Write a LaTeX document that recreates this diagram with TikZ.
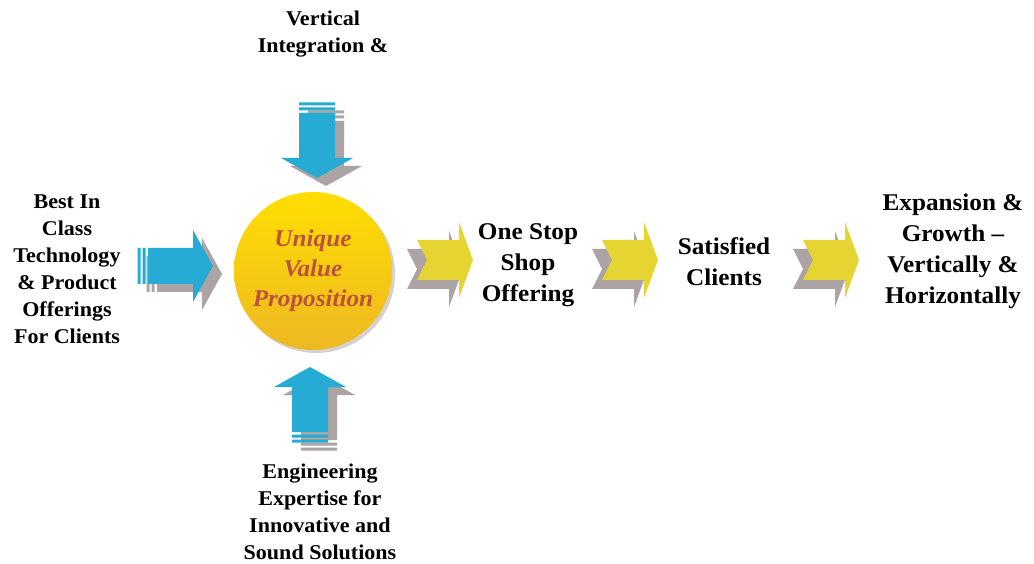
\documentclass[tikz,border=0pt]{standalone}
\usepackage{fontspec}
\setmainfont{Liberation Serif}[FakeStretch=1.05]
\usepackage{tikz}
\usetikzlibrary{calc,positioning,shadows}
\definecolor{uvpBlue}{RGB}{38,172,212}
\definecolor{uvpGrey}{RGB}{172,164,164}
\definecolor{uvpChevron}{RGB}{229,212,50}
\definecolor{uvpGold}{RGB}{255,222,0}
\definecolor{uvpAmber}{RGB}{238,184,36}
\definecolor{uvpRed}{RGB}{188,82,60}

% striped block arrow, tip at (#1,#2), turned by #3
\newcommand{\stripearrow}[4]{%
  \fill[#4,shift={(#1,#2)},rotate=#3] (0,0) -- (-20,-36) -- (-20,-18) -- (-65,-18) -- (-65,18) -- (-20,18) -- (-20,36) -- cycle
    (-67.5,-18) rectangle (-70.5,18) (-72.5,-18) rectangle (-75.5,18);}
% notched chevron, tip at (#1,#2)
\newcommand{\chevron}[3]{%
  \fill[#3,shift={(#1,#2)}] (0,0) -- (-14,-38) -- (-14,-20) -- (-56,-20) -- (-46,0) -- (-56,20) -- (-14,20) -- (-14,38) -- cycle;}

\tikzset{
  lbl/.style={font=\bfseries\fontsize{21}{27}\selectfont, align=center, inner sep=0pt},
  biglbl/.style={font=\bfseries\fontsize{24}{31}\selectfont, align=center, inner sep=0pt}
}

\begin{document}
\begin{tikzpicture}[x=1pt,y=-1pt]
\useasboundingbox[fill=white] (0,0) rectangle (1034,564);

% blue arrows into the circle (grey copies first)
\stripearrow{222}{274}{0}{uvpGrey}
\stripearrow{213}{266}{0}{uvpBlue}
\stripearrow{326}{186}{-90}{uvpGrey}
\stripearrow{317}{178}{-90}{uvpBlue}
\stripearrow{319}{375}{90}{uvpGrey}
\stripearrow{310}{367}{90}{uvpBlue}

\node[circle, minimum size=158pt, inner sep=0pt, top color=uvpGold, bottom color=uvpAmber, draw=none,
      drop shadow={shadow xshift=3pt, shadow yshift=-3pt, fill=uvpGrey, opacity=0.5},
      text=uvpRed, font=\bfseries\itshape\fontsize{24}{30}\selectfont, align=center] (uvp) at (313,271)
  {Unique\\Value\\Proposition};

% chevrons along the chain
\foreach \tx in {473,658,859}
{
    \chevron{\tx-10}{269}{uvpGrey}
    \chevron{\tx}{260}{uvpChevron}
}

\node[lbl] (vertint) at (323,34) {Vertical\\Integration \&};
\node[lbl] (bestin) at (67,269) {Best In\\Class\\Technology\\\& Product\\Offerings\\For Clients};
\node[lbl] (engexp) at (320,512) {Engineering\\Expertise for\\Innovative and\\Sound Solutions};
\node[biglbl] (onestop) at (528,265) {One Stop\\Shop\\Offering};
\node[biglbl] (satisfied) at (724,262) {Satisfied\\Clients};
\node[biglbl] (expansion) at (953,251) {Expansion \&\\Growth --\\Vertically \&\\Horizontally};
\end{tikzpicture}
\end{document}
